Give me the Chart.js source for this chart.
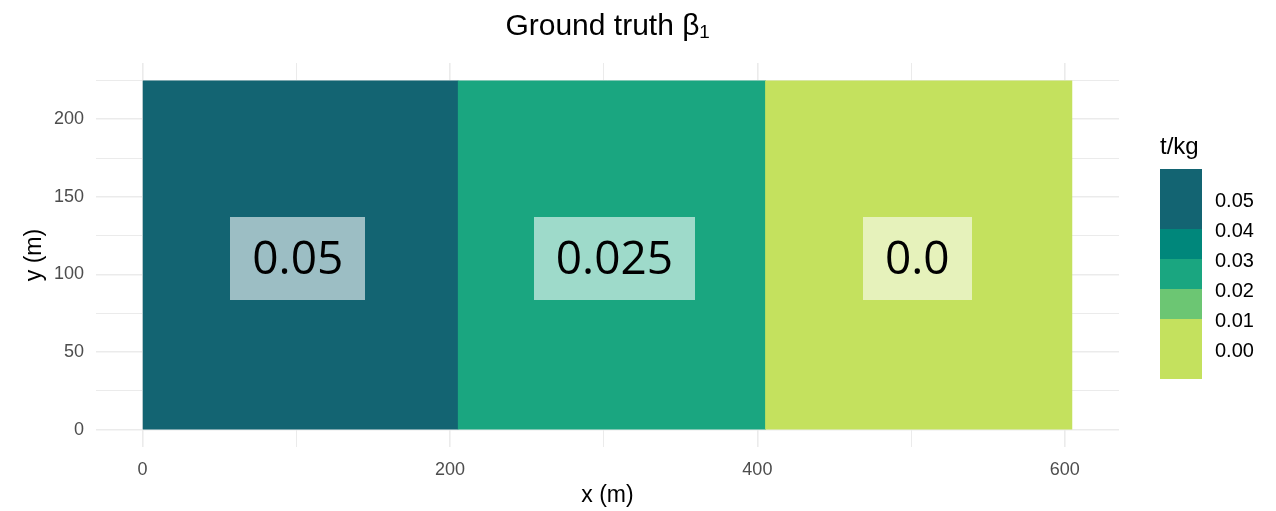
<!DOCTYPE html>
<html>
<head>
<meta charset="utf-8">
<script src="https://cdn.jsdelivr.net/npm/chart.js@4/dist/chart.umd.min.js"></script>
<style>
  html, body { margin: 0; padding: 0; background: #ffffff; }
  #wrap { width: 1276px; height: 511px; }
</style>
</head>
<body>
<div id="wrap"><canvas id="grafica" width="1276" height="511"></canvas></div>
<script>
// datos del gráfico
const regionEdges = [0, 205, 405, 605];      // límites en x (m) de cada zona
const yTop = 225;                             // alto del dominio (m)
const beta1Values = [0.05, 0.025, 0.0];       // valor de beta1 en cada zona
const labelText = ['0.05', '0.025', '0.0'];
const labelX = [101, 307, 504];
const labelY = 110;

const xTickValues = [0, 100, 200, 300, 400, 500, 600];
const xMajorTicks = [0, 200, 400, 600];
const yTickValues = [0, 25, 50, 75, 100, 125, 150, 175, 200, 225];
const yMajorTicks = [0, 50, 100, 150, 200];

// leyenda (escala por intervalos)
const legendLabels = ['0.05', '0.04', '0.03', '0.02', '0.01', '0.00'];
const legendLabelValues = [0.05, 0.04, 0.03, 0.02, 0.01, 0.00];
const legendBinLow = [0.04, 0.03, 0.02, 0.01, -0.01];
const legendBinHigh = [0.06, 0.04, 0.03, 0.02, 0.01];
const legendColors = ['#136472', '#00877b', '#1aa680', '#6cc673', '#c4e15e'];

const FONT = "'Liberation Sans', Arial, sans-serif";
const SOLAPE = 0.6; // pequeño solape para que no se vea la costura entre zonas

function colorFor(v) {
    for (let i = 0; i < legendBinLow.length; i++) {
        if (v > legendBinLow[i] && v <= legendBinHigh[i]) return legendColors[i];
    }
    return legendColors[legendColors.length - 1];
}

document.addEventListener('DOMContentLoaded', () => {
    try {
        const ctx = document.getElementById('grafica').getContext('2d');

        // una zona = línea superior rellenada hasta y = 0
        const datasets = beta1Values.map((v, i) => {
            const fin = regionEdges[i + 1] + (i < beta1Values.length - 1 ? SOLAPE : 0);
            return {
                label: labelText[i],
                data: [{ x: regionEdges[i], y: yTop }, { x: fin, y: yTop }],
                showLine: true,
                fill: 'origin',
                backgroundColor: colorFor(v),
                borderColor: 'rgba(0,0,0,0)',
                borderWidth: 0,
                pointRadius: 0,
                tension: 0,
                order: -i
            };
        });

        // cajas con el valor
        const cajasPlugin = {
            id: 'cajas',
            afterDatasetsDraw(chart) {
                const c = chart.ctx;
                const sx = chart.scales.x, sy = chart.scales.y;
                c.save();
                c.font = "46px 'Open Sans', sans-serif";
                c.textAlign = 'center';
                c.textBaseline = 'middle';
                labelText.forEach((t, i) => {
                    const px = sx.getPixelForValue(labelX[i]);
                    const py = sy.getPixelForValue(labelY);
                    const w = c.measureText(t).width + 44;
                    const h = 83;
                    c.fillStyle = 'rgba(255,255,255,0.58)';
                    c.fillRect(Math.round(px - w / 2), Math.round(py - h / 2), Math.round(w), h);
                    c.fillStyle = '#000000';
                    c.fillText(t, px, py + 2);
                });
                c.restore();
            }
        };

        // leyenda de color
        const leyendaPlugin = {
            id: 'leyenda',
            afterDraw(chart) {
                const c = chart.ctx;
                const x0 = 1160, barW = 42, top = 169, unit = 3000; // px por unidad
                const vTop = 0.06;
                const yOf = v => top + (vTop - v) * unit;
                c.save();
                c.fillStyle = '#000000';
                c.font = '24px ' + FONT;
                c.textAlign = 'left';
                c.textBaseline = 'alphabetic';
                c.fillText('t/kg', x0, 154);
                legendColors.forEach((col, i) => {
                    const y1 = yOf(legendBinHigh[i]);
                    const y2 = yOf(legendBinLow[i]);
                    c.fillStyle = col;
                    c.fillRect(x0, Math.round(y1), barW, Math.round(y2) - Math.round(y1));
                });
                c.fillStyle = '#000000';
                c.font = '20px ' + FONT;
                c.textBaseline = 'middle';
                legendLabels.forEach((t, i) => {
                    c.fillText(t, 1215, yOf(legendLabelValues[i]) + 2);
                });
                c.restore();
            }
        };

        new Chart(ctx, {
            type: 'scatter',
            data: { datasets: datasets },
            plugins: [cajasPlugin, leyendaPlugin],
            options: {
                responsive: false,
                animation: false,
                layout: { padding: { left: 0, right: 157, top: 0, bottom: 0 } },
                scales: {
                    x: {
                        type: 'linear',
                        min: -30.25,
                        max: 635.25,
                        afterBuildTicks: s => { s.ticks = xTickValues.map(v => ({ value: v })); },
                        afterFit: s => { s.height = 64; },
                        border: { display: false },
                        grid: {
                            drawTicks: false,
                            color: '#ebebeb',
                            lineWidth: c => xMajorTicks.includes(c.tick && c.tick.value) ? 1.6 : 1
                        },
                        ticks: {
                            padding: 12,
                            color: '#4d4d4d',
                            font: { family: FONT, size: 18 },
                            callback: v => xMajorTicks.includes(v) ? String(v) : ''
                        },
                        title: {
                            display: true,
                            text: 'x (m)',
                            color: '#000000',
                            font: { family: FONT, size: 23 },
                            padding: { top: 0, bottom: 2 }
                        }
                    },
                    y: {
                        type: 'linear',
                        min: -11.25,
                        max: 236.25,
                        afterBuildTicks: s => { s.ticks = yTickValues.map(v => ({ value: v })); },
                        afterFit: s => { s.width = 96; },
                        border: { display: false },
                        grid: {
                            drawTicks: false,
                            color: '#ebebeb',
                            lineWidth: c => yMajorTicks.includes(c.tick && c.tick.value) ? 1.6 : 1
                        },
                        ticks: {
                            padding: 12,
                            color: '#4d4d4d',
                            font: { family: FONT, size: 18 },
                            callback: v => yMajorTicks.includes(v) ? String(v) : ''
                        },
                        title: {
                            display: true,
                            text: 'y (m)',
                            color: '#000000',
                            font: { family: FONT, size: 23 },
                            padding: { top: 21, bottom: 0 }
                        }
                    }
                },
                plugins: {
                    legend: { display: false },
                    tooltip: { enabled: false },
                    title: {
                        display: true,
                        fullSize: false,
                        text: 'Ground truth β₁',
                        color: '#000000',
                        font: { family: FONT, size: 30, weight: 'normal' },
                        padding: { top: 9, bottom: 18 }
                    }
                }
            }
        });
    } catch (e) {
        console.error('Error al crear la gráfica:', e);
    }
});
</script>
</body>
</html>
